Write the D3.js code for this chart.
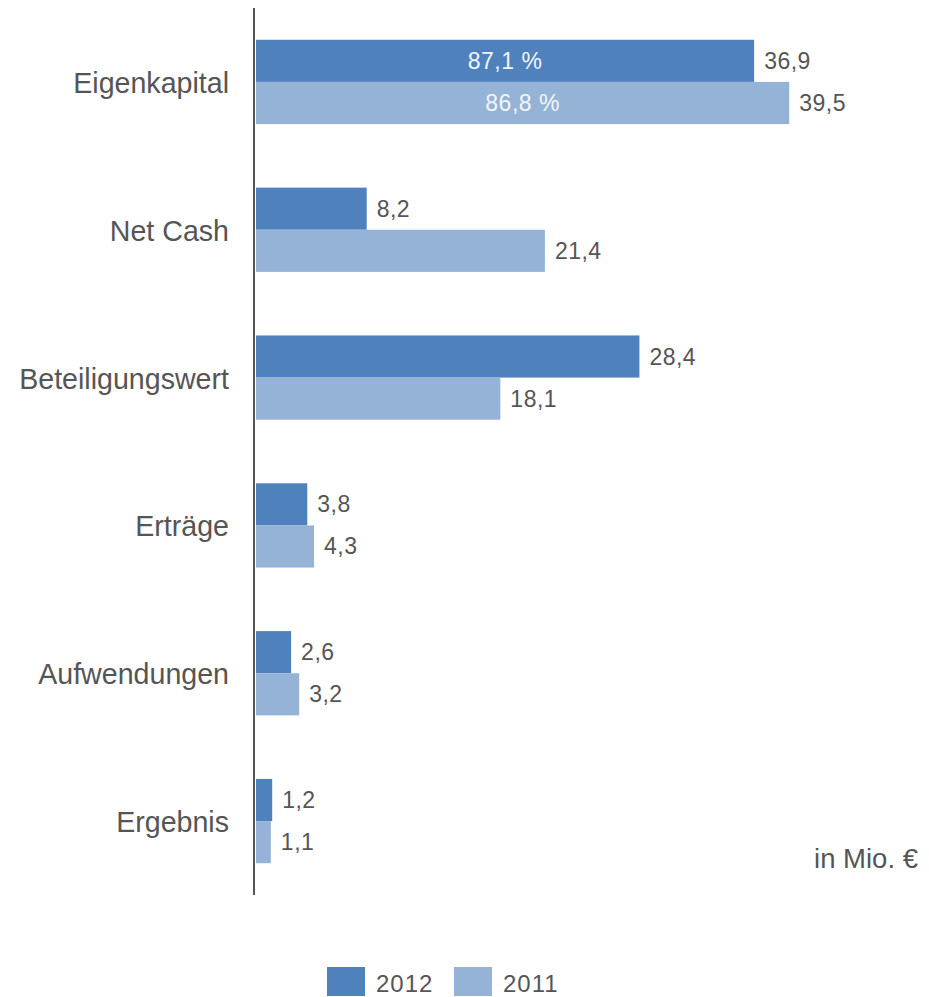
<!DOCTYPE html>
<html><head><meta charset="utf-8">
<script src="https://cdn.jsdelivr.net/npm/d3@7"></script>
<style>body{margin:0;background:#fff}svg{display:block}text{font-family:"Liberation Sans",Arial,sans-serif}</style>
</head><body>
<script>
const categories = ["Eigenkapital","Net Cash","Beteiligungswert","Erträge","Aufwendungen","Ergebnis"];
const series = ["2012","2011"];
const values2012 = [36.9, 8.2, 28.4, 3.8, 2.6, 1.2];
const values2011 = [39.5, 21.4, 18.1, 4.3, 3.2, 1.1];
const valueLabels2012 = ["36,9","8,2","28,4","3,8","2,6","1,2"];
const valueLabels2011 = ["39,5","21,4","18,1","4,3","3,2","1,1"];
const innerLabels2012 = ["87,1 %",null,null,null,null,null];
const innerLabels2011 = ["86,8 %",null,null,null,null,null];
const unitLabel = "in Mio. €";
const colors = {"2012":"#4f81bd","2011":"#95b3d7"};

const W=929,H=997;
const svg=d3.select("body").append("svg").attr("width",W).attr("height",H);
const x=d3.scaleLinear().domain([0,40]).range([256,256+540]);
const y=d3.scaleBand().domain(categories).range([8,895]).paddingInner(0.43).paddingOuter(0.215);
const y1=d3.scaleBand().domain(series).range([0,y.bandwidth()]);

const data=series.map(s=>({s,vals:s==="2012"?values2012:values2011,labs:s==="2012"?valueLabels2012:valueLabels2011,inner:s==="2012"?innerLabels2012:innerLabels2011}));

const txtCol="#555";
data.forEach(d=>{
  const g=svg.append("g");
  categories.forEach((c,i)=>{
    const top=y(c)+y1(d.s), h=y1.bandwidth(), cy=top+h/2;
    g.append("rect").attr("x",x(0)).attr("y",top).attr("width",x(d.vals[i])-x(0)).attr("height",h).attr("fill",colors[d.s]);
    g.append("text").attr("x",x(d.vals[i])+10).attr("y",cy+8).attr("font-size",23).attr("letter-spacing",0.5).attr("fill",txtCol).text(d.labs[i]);
    if(d.inner[i]) g.append("text").attr("x",(x(0)+x(d.vals[i]))/2).attr("y",cy+8).attr("text-anchor","middle").attr("font-size",23).attr("letter-spacing",0.5).attr("fill","#f2f5fa").text(d.inner[i]);
  });
});

// category labels
categories.forEach(c=>{
  svg.append("text").attr("x",229).attr("y",y(c)+y.bandwidth()/2+11).attr("text-anchor","end").attr("font-size",28.6).attr("fill",txtCol).text(c);
});

// axis line
svg.append("line").attr("x1",254).attr("x2",254).attr("y1",8).attr("y2",895).attr("stroke","#555").attr("stroke-width",2);

svg.append("text").attr("x",918).attr("y",868).attr("text-anchor","end").attr("font-size",27.5).attr("fill",txtCol).text(unitLabel);

// legend
const lg=svg.append("g");
[["2012",327],["2011",454]].forEach(([s,lx])=>{
  lg.append("rect").attr("x",lx).attr("y",967).attr("width",38).attr("height",29).attr("fill",colors[s]);
  lg.append("text").attr("x",lx+49).attr("y",992).attr("font-size",24).attr("letter-spacing",1).attr("fill",txtCol).text(s);
});
</script>
</body></html>
